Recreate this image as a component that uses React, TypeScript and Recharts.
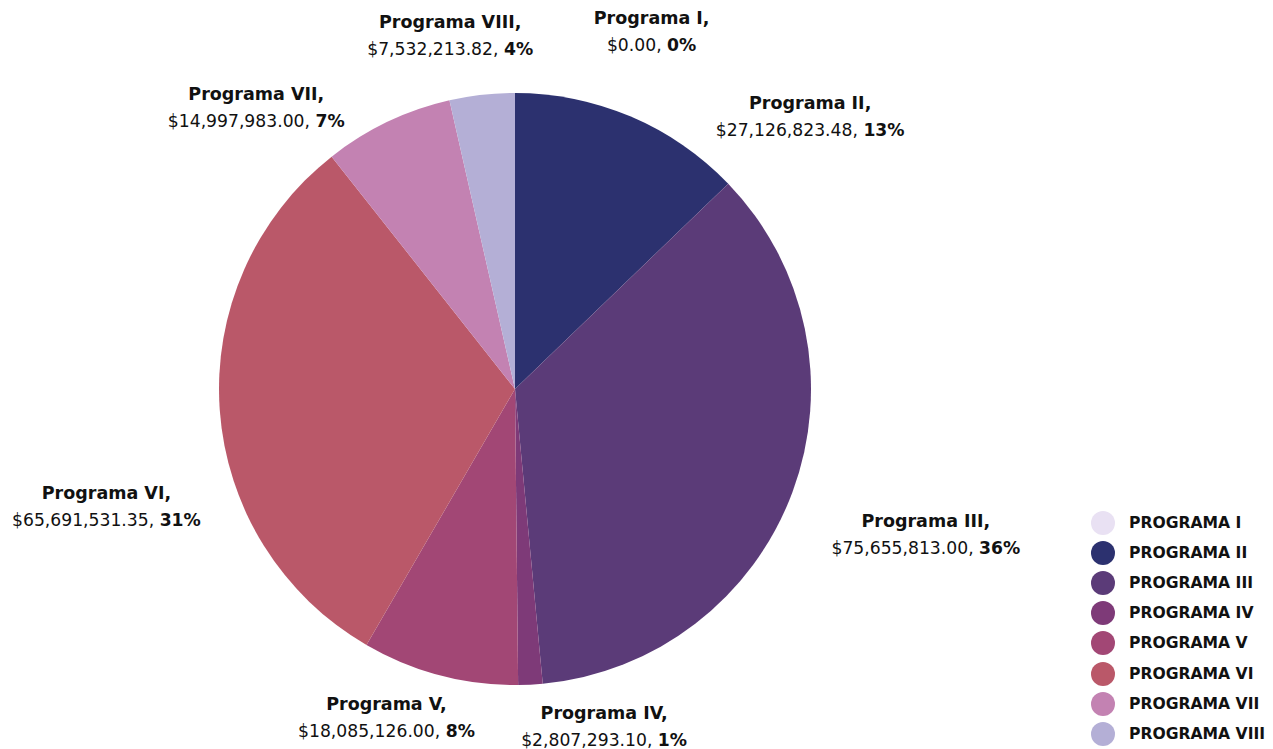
import { PieChart, Pie, Cell, Legend } from 'recharts'

const programNames = ['Programa I', 'Programa II', 'Programa III', 'Programa IV', 'Programa V', 'Programa VI', 'Programa VII', 'Programa VIII']
const amounts = [0, 27126823.48, 75655813.0, 2807293.1, 18085126.0, 65691531.35, 14997983.0, 7532213.82]
const pctLabels = [0, 13, 36, 1, 8, 31, 7, 4]

const colors = ['#E9E1F3', '#2C316F', '#5B3B78', '#7E3A78', '#A24775', '#BA5869', '#C382B2', '#B4AFD6']

// label placement: angle shift (deg, clockwise) and extra distance past the pie edge
const labelShift = [20.9, 24.2, -0.8, -11.8, 6.6, -11.9, -17.1, -4.0]
const labelGap = [87, 106, 140, 53, 57, 129, 86, 63]

const font = '"DejaVu Sans", sans-serif'

const data = programNames.map((name, i) => ({ name, value: amounts[i] }))

const money = (v: number) =>
    '$' + v.toLocaleString('en-US', { minimumFractionDigits: 2, maximumFractionDigits: 2 })

const renderLabel = (props: any) => {
    const { cx, cy, midAngle, outerRadius, index } = props
    const compass = 90 - midAngle + labelShift[index]
    const rad = (compass * Math.PI) / 180
    const r = outerRadius + labelGap[index]
    const x = cx + r * Math.sin(rad)
    const y = cy - r * Math.cos(rad)
    return (
        <g>
            <text x={x} y={y - 13.5} textAnchor="middle" dominantBaseline="central" fill="#111" fontFamily={font} fontWeight={700} fontSize={17.5}>
                {programNames[index]},
            </text>
            <text x={x} y={y + 13.5} textAnchor="middle" dominantBaseline="central" fill="#111" fontFamily={font} fontSize={17.2}>
                {money(amounts[index])},{' '}
                <tspan fontWeight={700}>{pctLabels[index]}%</tspan>
            </text>
        </g>
    )
}

const LegendBox = () => (
    <div style={{ fontFamily: font }}>
        {programNames.map((name, i) => (
            <div key={name} style={{ display: 'flex', alignItems: 'center', height: 30.1 }}>
                <span style={{ width: 24, height: 24, borderRadius: 12, background: colors[i], display: 'inline-block' }} />
                <span style={{ marginLeft: 14, fontWeight: 700, fontSize: 15.6, color: '#111' }}>
                    {name.toUpperCase()}
                </span>
            </div>
        ))}
    </div>
)

export default function App() {
    return (
        <div style={{ position: 'absolute', left: 0, top: 0, background: '#fff' }}>
            <PieChart width={1273} height={749} margin={{ top: 0, right: 0, bottom: 0, left: 0 }}>
                <Pie
                    data={data}
                    dataKey="value"
                    nameKey="name"
                    cx={515}
                    cy={389}
                    outerRadius={296}
                    startAngle={90}
                    endAngle={-270}
                    stroke="none"
                    label={renderLabel}
                    labelLine={false}
                    isAnimationActive={false}
                >
                    {data.map((d, i) => (
                        <Cell key={d.name} fill={colors[i]} />
                    ))}
                </Pie>
                <Legend content={<LegendBox />} wrapperStyle={{ left: 1091, top: 508, width: 182 }} />
            </PieChart>
        </div>
    )
}
